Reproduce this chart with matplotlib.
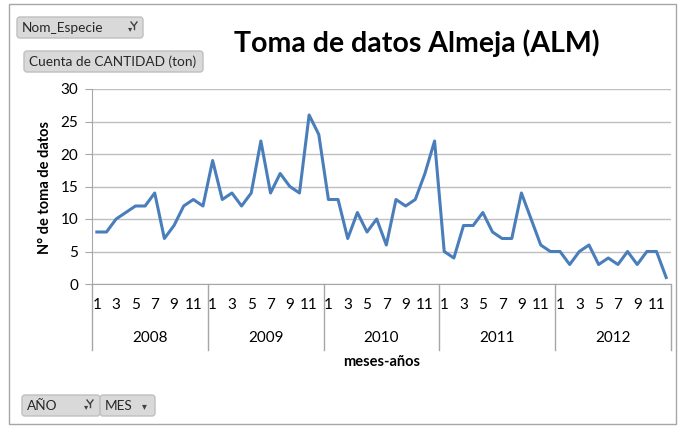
import matplotlib
matplotlib.use('Agg')
import matplotlib.pyplot as plt
from matplotlib.patches import FancyBboxPatch, Rectangle

plt.rcParams['font.family'] = ['Lato', 'DejaVu Sans']

# datos (toma de datos por mes)
anios = ['2008', '2009', '2010', '2011', '2012']
meses_etiqueta = [1, 3, 5, 7, 9, 11]
tomas_2008 = [8, 8, 10, 11, 12, 12, 14, 7, 9, 12, 13, 12]
tomas_2009 = [19, 13, 14, 12, 14, 22, 14, 17, 15, 14, 26, 23]
tomas_2010 = [13, 13, 7, 11, 8, 10, 6, 13, 12, 13, 17, 22]
tomas_2011 = [5, 4, 9, 9, 11, 8, 7, 7, 14, 10, 6, 5]
tomas_2012 = [5, 3, 5, 6, 3, 4, 3, 5, 3, 5, 5, 1]
tomas = tomas_2008 + tomas_2009 + tomas_2010 + tomas_2011 + tomas_2012

W, H = 678, 426
GRIS = '#A6A6A6'


def caja(x0, y0, x1, y1):
    # caja en pixeles -> fraccion de figura
    return [x0 / W, 1 - y1 / H, (x1 - x0) / W, (y1 - y0) / H]


fig = plt.figure(figsize=(W / 100, H / 100), dpi=100)

# capa de fondo en pixeles para botones y borde
bg = fig.add_axes([0, 0, 1, 1])
bg.set_xlim(0, W)
bg.set_ylim(H, 0)
bg.axis('off')
bg.add_patch(Rectangle((9, 4), 667, 420, fill=False, ec=GRIS, lw=1))


def boton(x0, y0, x1, y1, texto):
    bg.add_patch(FancyBboxPatch((x0, y0), x1 - x0, y1 - y0,
                                boxstyle='round,pad=0,rounding_size=3',
                                fc='#D9D9D9', ec='#BFBFBF', lw=1))
    bg.text(x0 + 5, (y0 + y1) / 2 + 0.5, texto, fontsize=9.8, color='#262626',
            ha='left', va='center')


def filtro(x, y):
    bg.text(x - 4, y + 3, '▾', fontsize=6, color='#404040', ha='center', va='center',
            family='DejaVu Sans')
    bg.plot([x - 3, x, x + 3], [y - 4, y, y - 4], color='#404040', lw=1)
    bg.plot([x, x], [y, y + 3], color='#404040', lw=1)


boton(17, 17, 143, 38, 'Nom_Especie')
filtro(134, 26)
boton(24, 51, 203, 72, 'Cuenta de CANTIDAD (ton)')
boton(22, 395, 100, 416, 'AÑO')
filtro(90, 404)
boton(100, 395, 155, 416, 'MES')
bg.text(144, 406, '▾', fontsize=7, color='#404040', ha='center', va='center',
        family='DejaVu Sans')

fig.text(417 / W, 1 - 43 / H, 'Toma de datos Almeja (ALM)', fontsize=20.5,
         fontweight='bold', ha='center', va='center')

ax = fig.add_axes(caja(92, 89, 671, 284))
ax.set_facecolor('none')
x = range(len(tomas))
ax.plot(x, tomas, color='#4A7EBB', lw=2.2)
ax.set_xlim(-0.5, len(tomas) - 0.5)
ax.set_ylim(0, 30)
ax.set_yticks(range(0, 31, 5))
ax.grid(axis='y', color='#BFBFBF', lw=1)
ax.set_axisbelow(True)
for s in ['top', 'right']:
    ax.spines[s].set_visible(False)
ax.spines['left'].set_color(GRIS)
ax.spines['bottom'].set_color(GRIS)
ax.tick_params(axis='y', length=5, color=GRIS, labelsize=11, pad=5)
ax.tick_params(axis='x', length=0, labelbottom=False)
ax.set_xticks([])

trans = ax.get_xaxis_transform()
for i, anio in enumerate(anios):
    for m in meses_etiqueta:
        ax.text(i * 12 + m - 1, -0.108, str(m), transform=trans, fontsize=11,
                ha='center', va='center')
    ax.text(i * 12 + 5.5, -0.277, anio, transform=trans, fontsize=11,
            ha='center', va='center')
for k in range(len(anios) + 1):
    ax.plot([k * 12 - 0.5] * 2, [0, -0.338], transform=trans, clip_on=False,
            color=GRIS, lw=1)

ax.text(0.5, -0.40, 'meses-años', transform=ax.transAxes, fontsize=10.5,
        fontweight='bold', ha='center', va='center')
fig.text(45 / W, 1 - 187 / H, 'N° de toma de datos', fontsize=10.5,
         fontweight='bold', rotation=90, ha='center', va='center')

fig.savefig('out.png', dpi=100)
